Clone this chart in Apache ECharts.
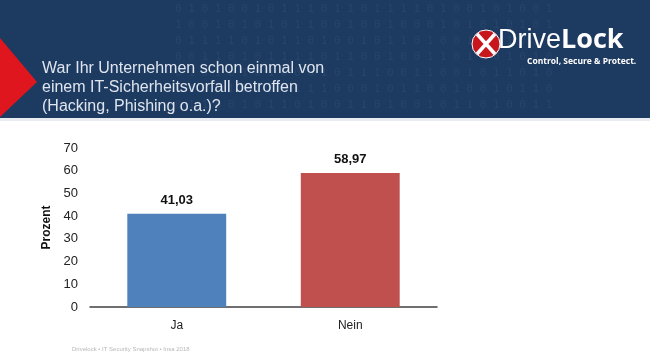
<!DOCTYPE html>
<html>
<head>
<meta charset="utf-8">
<script src="https://cdn.jsdelivr.net/npm/echarts@6/dist/echarts.min.js"></script>
<style>html,body{margin:0;padding:0;background:#fff}#c{width:650px;height:364px}</style>
</head>
<body>
<div id="c"></div>
<script>
const categories = ['Ja', 'Nein'];
const values = [41.03, 58.97];
const barColors = ['#4f81bd', '#c0504d'];
const yTicks = [0, 10, 20, 30, 40, 50, 60, 70];
const titleLines = ['War Ihr Unternehmen schon einmal von', 'einem IT-Sicherheitsvorfall betroffen', '(Hacking, Phishing o.a.)?'];
const binaryRows = [
  '0 1 0 1 0 0 1 0 1 1 1 0 1 1 0 1 1 1 1 0 1 0 0 1 0 1 0 0 1',
  '1 0 0 1 0 1 0 1 0 1 1 0 0 1 0 0 1 0 0 0 1 0 1 0 1 0 1 0 1',
  '0 1 1 1 1 0 1 0 1 1 0 1 0 0 1 0 1 1 0 1 0 0 1 1 0 1 0 1 1',
  '0 0 1 1 0 1 0 1 1 1 1 0 1 1 0 0 1 0 0 1 1 0 1 0 0 1 0 1 0',
  '0 1 0 1 0 1 0 1 0 0 0 1 0 1 1 1 0 0 1 1 0 0 1 0 1 1 0 1 0',
  '1 1 0 0 1 0 1 0 0 1 1 1 0 0 0 1 0 1 1 0 0 1 0 0 1 0 1 1 0',
  '0 1 1 0 0 1 0 1 1 0 1 0 0 1 1 0 1 0 0 1 0 1 1 0 1 0 0 1 1'
];

const chart = echarts.init(document.getElementById('c'), null, {renderer: 'canvas'});

const graphics = [
  {type: 'rect', shape: {x: 0, y: 0, width: 650, height: 118}, style: {fill: '#1d3a61'}, z: -10},
  {type: 'rect', shape: {x: 0, y: 118, width: 650, height: 3}, style: {fill: '#e8ebef'}, z: -10}
];
binaryRows.forEach((r, i) => {
  graphics.push({type: 'text', x: 175, y: 4 + i * 16, style: {text: r, fill: 'rgba(170,195,230,0.08)', font: '11px "DejaVu Sans Mono"'}, z: -9});
});
graphics.push({type: 'polygon', shape: {points: [[0, 38], [37, 82], [0, 117]]}, style: {fill: '#e0161e'}, z: -5});
titleLines.forEach((t, i) => {
  graphics.push({type: 'text', x: 42, y: 61 + i * 19, style: {text: t, fill: '#dfe5ee', font: '16px "Liberation Sans"'}});
});
// logo
graphics.push({type: 'circle', shape: {cx: 486, cy: 44, r: 14}, style: {fill: '#c8161d', stroke: '#ffffff', lineWidth: 1}});
graphics.push({type: 'line', shape: {x1: 477, y1: 34, x2: 495, y2: 54}, style: {stroke: '#ffffff', lineWidth: 3.5}});
graphics.push({type: 'line', shape: {x1: 495, y1: 34, x2: 477, y2: 54}, style: {stroke: '#ffffff', lineWidth: 3.5}});
graphics.push({type: 'text', x: 498, y: 27, style: {
  text: '{a|Drive}{b|Lock}',
  rich: {a: {fill: '#ffffff', font: '27px "Liberation Sans Narrow", "Liberation Sans"'}, b: {fill: '#ffffff', font: 'bold 27px "Open Sans"'}}
}});
graphics.push({type: 'text', x: 527, y: 57, style: {text: 'Control, Secure & Protect.', fill: '#ffffff', font: 'bold 8.5px "Open Sans"'}});
// footer
graphics.push({type: 'text', x: 72, y: 346, style: {text: 'Drivelock • IT Security Snapshot • Insa 2018', fill: '#b8b8b8', font: '6px "Liberation Sans"'}});

chart.setOption({
  animation: false,
  backgroundColor: '#ffffff',
  grid: {left: 90, right: 213, top: 148, bottom: 57, containLabel: false},
  xAxis: {
    type: 'category',
    data: categories,
    axisLine: {lineStyle: {color: '#404040', width: 1.5}},
    axisTick: {show: false},
    axisLabel: {color: '#222', fontSize: 12, fontFamily: 'Liberation Sans', margin: 13}
  },
  yAxis: {
    type: 'value',
    min: yTicks[0],
    max: yTicks[yTicks.length - 1],
    interval: 10,
    name: 'Prozent',
    nameLocation: 'middle',
    nameRotate: 90,
    nameGap: 32,
    nameTextStyle: {color: '#111', fontSize: 12, fontWeight: 'bold', fontFamily: 'Liberation Sans'},
    axisLine: {show: false},
    axisTick: {show: false},
    splitLine: {show: false},
    axisLabel: {color: '#222', fontSize: 13, fontFamily: 'Liberation Sans', margin: 12}
  },
  series: [{
    type: 'bar',
    barWidth: '57%',
    data: values.map((v, i) => ({value: v, itemStyle: {color: barColors[i]}})),
    label: {
      show: true,
      position: 'top',
      distance: 7,
      color: '#111',
      fontWeight: 'bold',
      fontSize: 13,
      fontFamily: 'Liberation Sans',
      formatter: p => p.value.toFixed(2).replace('.', ',')
    }
  }],
  graphic: graphics
});
</script>
</body>
</html>
